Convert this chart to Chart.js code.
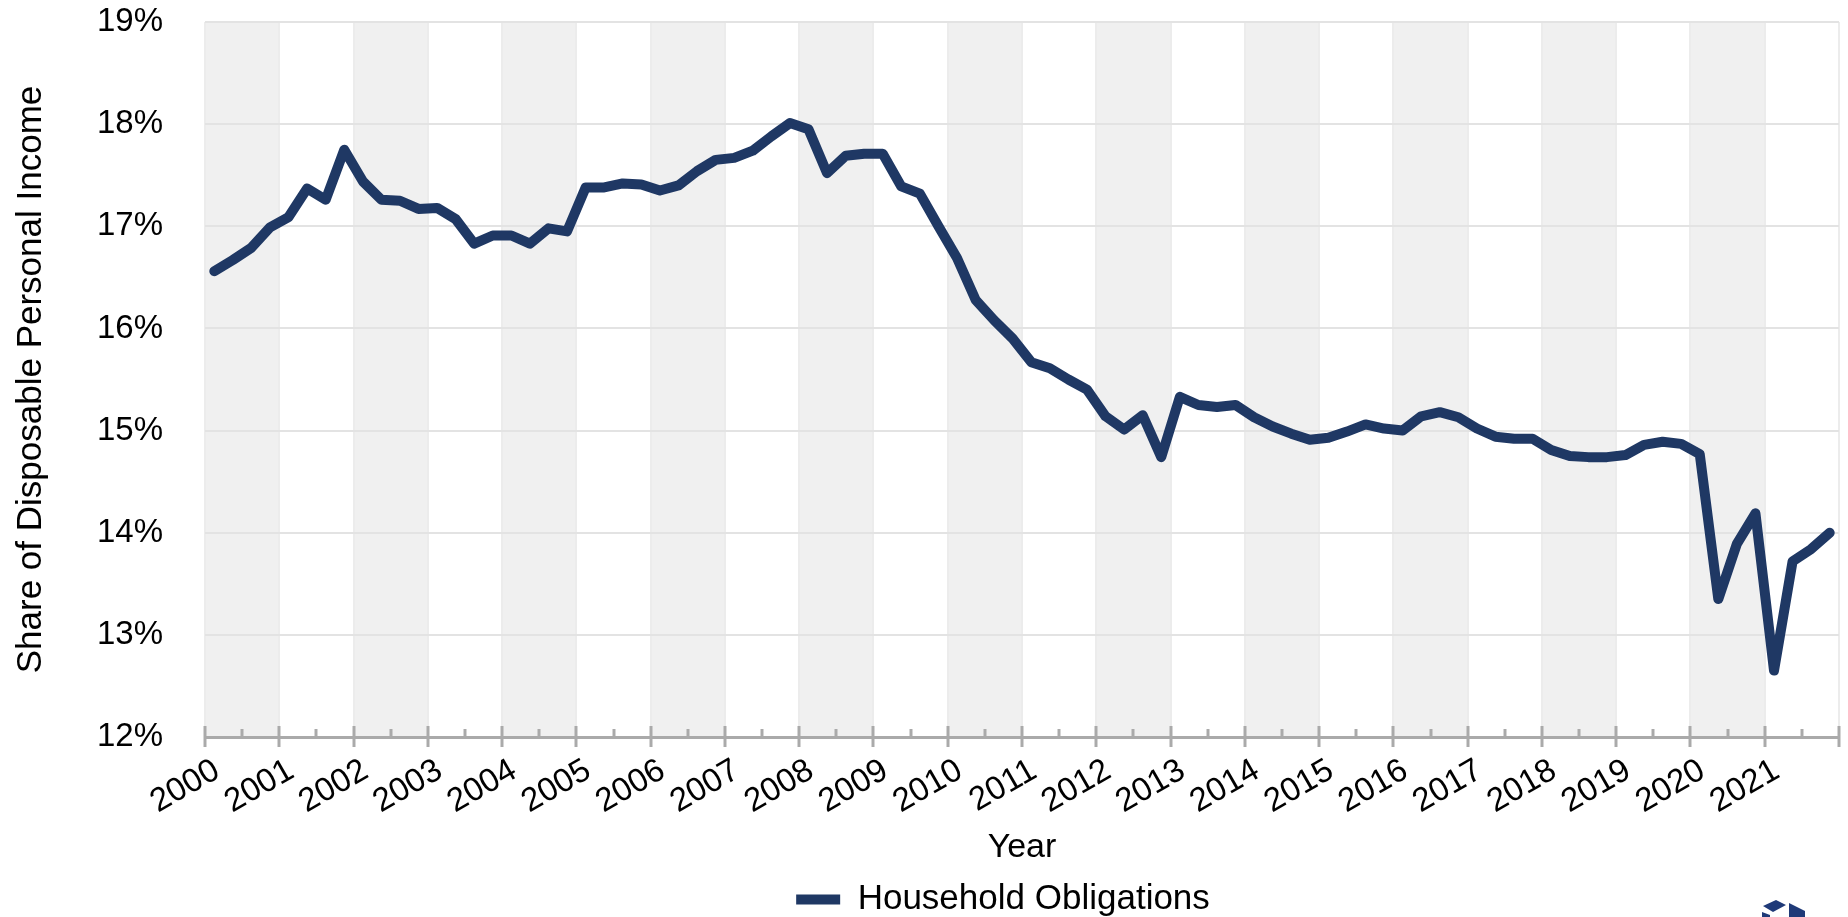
<!DOCTYPE html>
<html>
<head>
  <title>Household Obligations</title>
  <script src="https://cdn.jsdelivr.net/npm/chart.js"></script>
  <style>
    html, body { margin: 0; padding: 0; background: #fff; }
  </style>
</head>
<body>
  <canvas id="obligationsChart" width="1848" height="917"></canvas>

  <script>
    // Quarterly data, 2000 Q1 - 2021 Q4
    const years = [2000, 2001, 2002, 2003, 2004, 2005, 2006, 2007, 2008, 2009, 2010,
                   2011, 2012, 2013, 2014, 2015, 2016, 2017, 2018, 2019, 2020, 2021];
    const quarterOffsets = [0.125, 0.375, 0.625, 0.875]; // mid-quarter
    const householdObligations = [
      16.56, 16.67, 16.79, 16.99,
      17.09, 17.37, 17.26, 17.75,
      17.44, 17.26, 17.25, 17.17,
      17.18, 17.07, 16.83, 16.91,
      16.91, 16.83, 16.98, 16.95,
      17.38, 17.38, 17.42, 17.41,
      17.35, 17.40, 17.54, 17.65,
      17.67, 17.74, 17.88, 18.01,
      17.95, 17.52, 17.69, 17.71,
      17.71, 17.39, 17.32, 17.00,
      16.69, 16.28, 16.08, 15.90,
      15.67, 15.61, 15.50, 15.40,
      15.14, 15.01, 15.15, 14.74,
      15.33, 15.25, 15.23, 15.25,
      15.13, 15.04, 14.97, 14.91,
      14.93, 14.99, 15.06, 15.02,
      15.00, 15.14, 15.18, 15.13,
      15.02, 14.94, 14.92, 14.92,
      14.81, 14.75, 14.74, 14.74,
      14.76, 14.86, 14.89, 14.87,
      14.77, 13.35, 13.89, 14.19,
      12.65, 13.72, 13.84, 14.00
    ];
    const yMin = 12, yMax = 19;
    const xMin = 2000, xMax = 2022;

    const points = [];
    years.forEach((yr, i) => {
      quarterOffsets.forEach((off, q) => {
        points.push({ x: yr + off, y: householdObligations[i * 4 + q] });
      });
    });

    Chart.defaults.font.family = "'Liberation Sans', Arial, sans-serif";
    Chart.defaults.color = '#000';

    // grey band on every other year, under the grid
    const yearBands = {
      id: 'yearBands',
      beforeDraw(chart) {
        const { ctx, chartArea, scales: { x } } = chart;
        ctx.save();
        ctx.fillStyle = '#f0f0f0';
        years.forEach(yr => {
          if (yr % 2 !== 0) return;
          const x0 = x.getPixelForValue(yr);
          const x1 = x.getPixelForValue(yr + 1);
          ctx.fillRect(x0, chartArea.top, x1 - x0, chartArea.bottom - chartArea.top);
        });
        ctx.restore();
      }
    };

    // year ticks crossing the axis, half-year ticks above it
    const axisTicks = {
      id: 'axisTicks',
      afterDraw(chart) {
        const { ctx, chartArea, scales: { x } } = chart;
        const b = chartArea.bottom;
        ctx.save();
        ctx.strokeStyle = '#aaaaaa';
        ctx.lineWidth = 3;
        for (let v = xMin; v <= xMax; v++) {
          const px = Math.round(x.getPixelForValue(v));
          ctx.beginPath();
          ctx.moveTo(px, b - 11);
          ctx.lineTo(px, b + 10);
          ctx.stroke();
          if (v < xMax) {
            const mx = Math.round(x.getPixelForValue(v + 0.5));
            ctx.beginPath();
            ctx.moveTo(mx, b - 8);
            ctx.lineTo(mx, b);
            ctx.stroke();
          }
        }
        ctx.restore();
      }
    };

    // cut-off logo in the bottom right corner
    const cornerLogo = {
      id: 'cornerLogo',
      afterDraw(chart) {
        const ctx = chart.ctx;
        ctx.save();
        ctx.fillStyle = '#1f3a78';
        ctx.beginPath();
        ctx.moveTo(1763, 906); ctx.lineTo(1776, 900); ctx.lineTo(1786, 905); ctx.lineTo(1773, 912);
        ctx.closePath(); ctx.fill();
        ctx.beginPath();
        ctx.moveTo(1789, 903); ctx.lineTo(1805, 911); ctx.lineTo(1805, 917); ctx.lineTo(1789, 917);
        ctx.closePath(); ctx.fill();
        ctx.beginPath();
        ctx.moveTo(1762, 912); ctx.lineTo(1770, 915); ctx.lineTo(1770, 917); ctx.lineTo(1762, 917);
        ctx.closePath(); ctx.fill();
        ctx.fillStyle = '#000';
        ctx.font = "40px 'Liberation Sans', Arial, sans-serif";
        ctx.fillText('C', 1820, 941);
        ctx.restore();
      }
    };

    const legendNudge = {
      id: 'legendNudge',
      afterLayout(chart) {
        const lg = chart.legend;
        lg.left -= 19; lg.right -= 19;
        lg.top += 10; lg.bottom += 10;
      }
    };

    new Chart(document.getElementById('obligationsChart'), {
      type: 'line',
      data: {
        datasets: [{
          label: 'Household Obligations',
          data: points,
          borderColor: '#1f3864',
          backgroundColor: '#1f3864',
          borderWidth: 10,
          borderJoinStyle: 'round',
          borderCapStyle: 'round',
          pointRadius: 0,
          tension: 0,
          fill: false
        }]
      },
      options: {
        responsive: false,
        animation: false,
        devicePixelRatio: 1,
        layout: { padding: { top: 22, right: 9, bottom: 0, left: 0 } },
        scales: {
          x: {
            type: 'linear',
            min: xMin,
            max: xMax,
            afterFit(scale) {
              scale.height = 129;
              scale.paddingLeft = 0;
              scale.paddingRight = 0;
            },
            grid: { color: '#ececec', lineWidth: 2, drawTicks: false },
            border: { display: true, color: '#aaaaaa', width: 3 },
            ticks: {
              stepSize: 1,
              autoSkip: false,
              minRotation: 30,
              maxRotation: 30,
              padding: 14,
              labelOffset: 12,
              font: { size: 33 },
              callback: v => (v < xMax ? String(v) : '')
            },
            title: {
              display: true,
              text: 'Year',
              font: { size: 34 },
              padding: { top: 0, bottom: -2 }
            }
          },
          y: {
            min: yMin,
            max: yMax,
            afterFit(scale) {
              scale.width = 205;
              scale.paddingTop = 0;
              scale.paddingBottom = 0;
            },
            grid: { color: '#e3e3e3', lineWidth: 2, drawTicks: false },
            border: { display: false },
            ticks: {
              stepSize: 1,
              padding: 42,
              font: { size: 33 },
              callback: v => v + '%'
            },
            title: {
              display: true,
              text: 'Share of Disposable Personal Income',
              font: { size: 35 },
              padding: { top: 10, bottom: 0 }
            }
          }
        },
        plugins: {
          legend: {
            position: 'bottom',
            fullSize: false,
            labels: {
              usePointStyle: true,
              pointStyle: 'line',
              pointStyleWidth: 44,
              font: { size: 35 },
              padding: 6
            }
          },
          tooltip: { enabled: false }
        }
      },
      plugins: [yearBands, axisTicks, cornerLogo, legendNudge]
    });
  </script>
</body>
</html>
